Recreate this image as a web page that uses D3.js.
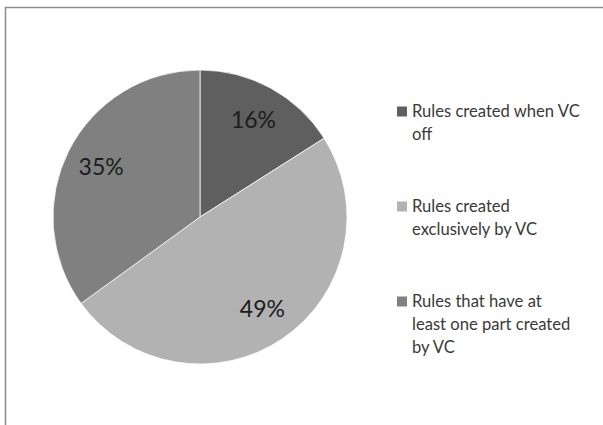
<!DOCTYPE html>
<html>
<head>
<meta charset="utf-8">
<script src="https://cdn.jsdelivr.net/npm/d3@7"></script>
<style>
  html, body { margin: 0; padding: 0; background: #fff; }
  svg { display: block; }
</style>
</head>
<body>
<svg id="chart" width="603" height="425"></svg>
<script>
// Share of rules by how they were created
const categories = [
  "Rules created when VC off",
  "Rules created exclusively by VC",
  "Rules that have at least one part created by VC"
];
const values = [16, 49, 35];
const legendLines = [
  ["Rules created when VC", "off"],
  ["Rules created", "exclusively by VC"],
  ["Rules that have at", "least one part created", "by VC"]
];
const sliceColors = ["#5f5f5f", "#b2b2b2", "#808080"];

const svg = d3.select("#chart");
const W = 603, H = 425;
const font = "Lato, 'Open Sans', sans-serif";

// chart frame (runs past the right and bottom edges)
svg.append("rect")
  .attr("x", 5.5).attr("y", 7.5)
  .attr("width", W + 20).attr("height", H + 20)
  .attr("fill", "#fff")
  .attr("stroke", "#8c8c8c")
  .attr("stroke-width", 1.5);

const cx = 200, cy = 217, R = 147;
const color = d3.scaleOrdinal().domain(categories).range(sliceColors);

const pie = d3.pie().sort(null).value(d => d.value);
const data = pie(categories.map((c, i) => ({ name: c, value: values[i] })));
const arc = d3.arc().innerRadius(0).outerRadius(R);
const labelArc = d3.arc().innerRadius(111).outerRadius(111);

const g = svg.append("g").attr("transform", `translate(${cx},${cy})`);

g.selectAll("path.slice")
  .data(data)
  .join("path")
  .attr("class", "slice")
  .attr("d", arc)
  .attr("fill", d => color(d.data.name))
  .attr("stroke", "#ffffff")
  .attr("stroke-width", 0.75);

const total = d3.sum(values);
g.selectAll("text.pct")
  .data(data)
  .join("text")
  .attr("class", "pct")
  .attr("transform", d => `translate(${labelArc.centroid(d)})`)
  .attr("text-anchor", "middle")
  .attr("dy", "0.36em")
  .attr("font-family", font)
  .attr("font-size", 23)
  .attr("fill", "#1c1c1c")
  .text(d => Math.round(d.data.value / total * 100) + "%");

// legend
const legend = svg.append("g").attr("transform", "translate(397,0)");
const itemTop = d3.scalePoint().domain(categories).range([117, 307]);

const item = legend.selectAll("g.item")
  .data(categories)
  .join("g")
  .attr("class", "item")
  .attr("transform", d => `translate(0,${itemTop(d)})`);

item.append("rect")
  .attr("x", 0).attr("y", -10.5)
  .attr("width", 10).attr("height", 10)
  .attr("fill", d => color(d));

item.append("text")
  .attr("font-family", font)
  .attr("font-size", 16.6)
  .attr("fill", "#3a3a3a")
  .selectAll("tspan")
  .data((d, i) => legendLines[i])
  .join("tspan")
  .attr("x", 15)
  .attr("y", (d, j) => j * 22.8)
  .text(d => d);
</script>
</body>
</html>
